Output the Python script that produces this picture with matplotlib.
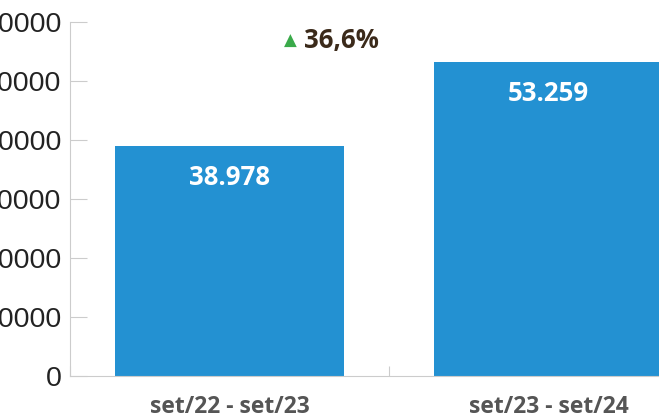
import matplotlib.pyplot as plt
import matplotlib.ticker as ticker

periods = ["set/22 - set/23", "set/23 - set/24"]
values = [38978, 53259]
value_labels = ["38.978", "53.259"]
growth_label = "36,6%"
y_ticks = [0, 10000, 20000, 30000, 40000, 50000, 60000]

bar_color = "#2391d2"
axis_color = "#cccccc"

fig = plt.figure(figsize=(6.59, 4.16), dpi=100)
ax = fig.add_axes([70 / 659, 40 / 416, 638 / 659, 354 / 416])

x = range(len(periods))
bars = ax.bar(x, values, width=0.72, color=bar_color, zorder=2)

ax.set_xlim(-0.5, 1.5)
ax.set_ylim(0, 60000)
ax.yaxis.set_major_locator(ticker.FixedLocator(y_ticks))
ax.set_yticklabels([str(v) for v in y_ticks], fontfamily="Liberation Sans",
                   fontsize=20.5, color="#222222")
ax.tick_params(axis="y", direction="in", length=12, color=axis_color, pad=6)

# category labels sit between tick marks at the group boundaries
ax.set_xticks([-0.5, 0.5, 1.5])
ax.set_xticklabels([])
ax.tick_params(axis="x", direction="in", length=7, color=axis_color)
for i, name in enumerate(periods):
    ax.text(i, -0.055, name, transform=ax.get_xaxis_transform(), ha="center",
            va="top", fontfamily="Open Sans", fontweight="bold", fontsize=16.5,
            color="#555555")

for s in ["top", "right"]:
    ax.spines[s].set_visible(False)
ax.spines["left"].set_color(axis_color)
ax.spines["bottom"].set_color(axis_color)

for i, (v, lab) in enumerate(zip(values, value_labels)):
    ax.text(i, v - 5300, lab, ha="center", va="center", color="white",
            fontfamily="Open Sans", fontweight="bold", fontsize=18.5)

ax.text(0.19, 56800, "\u25b2", ha="center", va="center", color="#3aaa4a",
        fontfamily="DejaVu Sans", fontsize=12)
ax.text(0.235, 56800, growth_label, ha="left", va="center", color="#3b2a1a",
        fontfamily="Open Sans", fontweight="bold", fontsize=18.5)

fig.savefig("out.png", dpi=100)
